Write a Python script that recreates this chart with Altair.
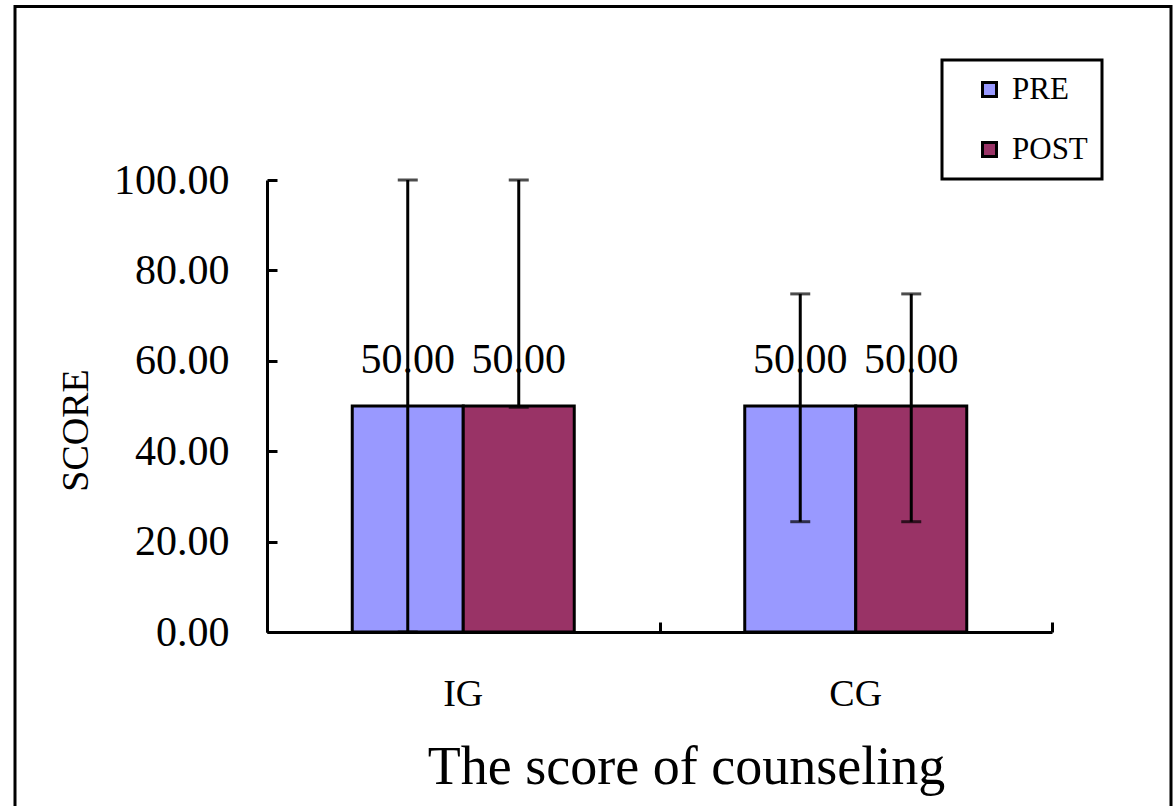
import altair as alt
import pandas as pd

# ---- data ----
groups = ["IG", "IG", "CG", "CG"]
phases = ["PRE", "POST", "PRE", "POST"]
means = [50.0, 50.0, 50.0, 50.0]
err_low = [0.0, 49.7, 24.4, 24.4]
err_high = [100.0, 100.0, 74.8, 74.8]
group_order = ["IG", "CG"]
phase_order = ["PRE", "POST"]
phase_colors = ["#9999FF", "#993366"]
y_ticks = [0, 20, 40, 60, 80, 100]

df = pd.DataFrame({"group": groups, "phase": phases, "mean": means,
                   "lo": err_low, "hi": err_high})

FONT = "Liberation Serif"

x_scale = alt.Scale(paddingInner=0, paddingOuter=0)
xo_scale = alt.Scale(paddingInner=0, paddingOuter=0.768)
y_scale = alt.Scale(domain=[0, 100], nice=False)

base = alt.Chart(df)

bars = base.mark_bar(stroke="black", strokeWidth=3).encode(
    x=alt.X("group:N", sort=group_order, scale=x_scale,
            axis=alt.Axis(orient="bottom", title="The score of counseling",
                          labelAngle=0, ticks=False, tickSize=0,
                          labelPadding=43, labelBaseline="top",
                          labelFontSize=38, labelFont=FONT, labelColor="black",
                          domainColor="black", domainWidth=3,
                          titleFont=FONT, titleFontSize=54, titleFontWeight="normal",
                          titleColor="black", titleX=419, titleY=151,
                          titleBaseline="alphabetic", titleAlign="center")),
    xOffset=alt.XOffset("phase:N", sort=phase_order, scale=xo_scale),
    y=alt.Y("mean:Q", scale=y_scale,
            axis=alt.Axis(orient="left", values=y_ticks, format=".2f",
                          ticks=False, tickSize=0, labelPadding=38,
                          labelFontSize=42, labelFont=FONT, labelColor="black",
                          labelBaseline="middle",
                          domainColor="black", domainWidth=3, grid=False,
                          title="SCORE", titleFont=FONT, titleFontSize=38,
                          titleFontWeight="normal", titleColor="black",
                          titleAngle=270, titleX=-191, titleY=250,
                          titleBaseline="middle", titleAlign="center")),
    color=alt.Color("phase:N", sort=phase_order,
                    scale=alt.Scale(domain=phase_order, range=phase_colors),
                    legend=alt.Legend(title=None, orient="none",
                                      legendX=675, legendY=-120)),
)

labels = base.mark_text(font=FONT, fontSize=42, baseline="alphabetic",
                        dy=-33, color="black").encode(
    x=alt.X("group:N", sort=group_order, scale=x_scale, axis=None),
    xOffset=alt.XOffset("phase:N", sort=phase_order, scale=xo_scale),
    y=alt.Y("mean:Q", scale=y_scale, axis=None),
    text=alt.Text("mean:Q", format=".2f"),
)

err_rules = base.mark_rule(color="black", strokeWidth=3).encode(
    x=alt.X("group:N", sort=group_order, scale=x_scale,
            axis=alt.Axis(orient="top", offset=-452, labels=False, domain=False,
                          ticks=True, tickBand="extent", tickSize=10,
                          tickWidth=3, tickColor="black", title=None)),
    xOffset=alt.XOffset("phase:N", sort=phase_order, scale=xo_scale),
    y=alt.Y("lo:Q", scale=y_scale,
            axis=alt.Axis(orient="right", offset=-785, labels=False, domain=False,
                          values=y_ticks, ticks=True, tickSize=10, tickWidth=3,
                          tickColor="black", grid=False, title=None)),
    y2="hi:Q",
)

cap_hi = base.mark_tick(color="black", thickness=3, size=20).encode(
    x=alt.X("group:N", sort=group_order, scale=x_scale, axis=None),
    xOffset=alt.XOffset("phase:N", sort=phase_order, scale=xo_scale),
    y=alt.Y("hi:Q", scale=y_scale, axis=None),
)
cap_lo = base.mark_tick(color="black", thickness=3, size=20).encode(
    x=alt.X("group:N", sort=group_order, scale=x_scale, axis=None),
    xOffset=alt.XOffset("phase:N", sort=phase_order, scale=xo_scale),
    y=alt.Y("lo:Q", scale=y_scale, axis=None),
)

frame = alt.Chart(pd.DataFrame({"f": [0]})).mark_rect(
    fillOpacity=0, stroke="black", strokeWidth=3).encode(
    x=alt.value(-252), x2=alt.value(904),
    y=alt.value(-173.5), y2=alt.value(640),
)

chart = alt.layer(frame, bars, err_rules, cap_hi, cap_lo, labels).resolve_axis(
    x="independent", y="independent"
).properties(
    width=785, height=452,
    padding={"left": 267, "top": 180, "right": 123, "bottom": 174},
    autosize=alt.AutoSizeParams(type="none"),
).configure_view(stroke=None).configure_legend(
    padding=14, rowPadding=28, symbolOffset=18, labelOffset=7,
    symbolType="square", symbolSize=196, symbolStrokeColor="black",
    symbolStrokeWidth=3, labelFont=FONT, labelFontSize=31, labelColor="black",
    strokeColor="black", strokeWidth=3,
)

chart.save("out.html", embed_options={"renderer": "svg", "actions": False})
